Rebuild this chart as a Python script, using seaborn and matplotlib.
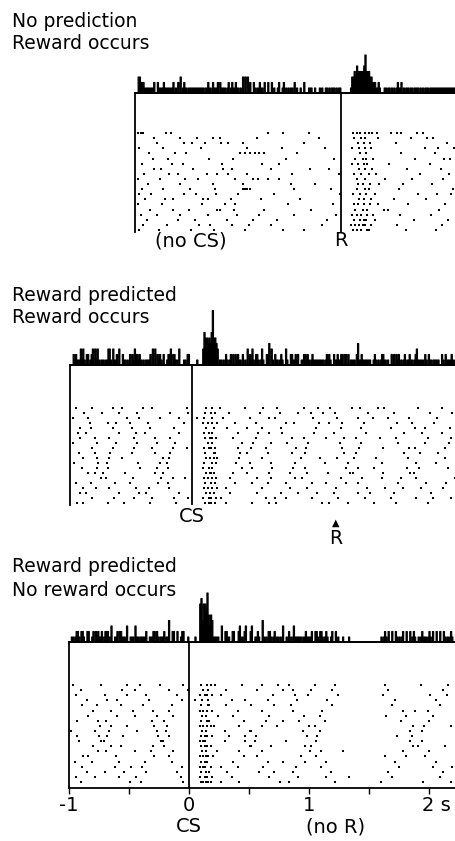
import matplotlib
matplotlib.use("Agg")
import matplotlib.pyplot as plt
import matplotlib.transforms as mtransforms
import pandas as pd
import seaborn as sns

# =========================
# Data: spike times (s) per trial, read off the rasters
# time 0 = CS onset (top panel: R delivered at 1.25 s)
# =========================
top_trials = [
    [-0.44, -0.42, -0.40, -0.21, -0.17, 0.64, 0.77, 0.98, 1.35, 1.38, 1.41, 1.45, 1.48, 1.51, 1.55, 1.67, 1.72, 1.75, 1.88, 1.93],
    [-0.31, -0.09, 0.05, 0.18, 0.24, 0.55, 1.07, 1.36, 1.42, 1.45, 1.56, 1.83, 1.97, 2.02],
    [-0.28, -0.06, 0.01, 0.12, 0.25, 0.31, 0.43, 0.94, 1.39, 1.44, 1.49, 1.71, 2.13],
    [-0.43, -0.23, 0.08, 0.47, 0.76, 1.12, 1.34, 1.40, 1.45, 1.50, 1.95, 2.06, 2.19],
    [-0.35, -0.13, -0.04, 0.41, 0.45, 0.49, 0.53, 0.57, 0.61, 0.88, 1.41, 1.46, 1.75, 2.03],
    [-0.32, -0.19, 0.15, 0.35, 0.79, 1.19, 1.37, 1.43, 1.46, 1.52, 1.87, 2.11, 2.16, 2.21],
    [-0.41, -0.16, -0.07, 0.26, 0.59, 0.73, 1.34, 1.39, 1.44, 1.47, 1.65, 1.99],
    [-0.31, -0.25, 0.02, 0.27, 0.34, 0.67, 0.99, 1.15, 1.40, 1.45, 1.51, 1.80, 2.08],
    [-0.39, -0.18, -0.11, 0.13, 0.22, 0.31, 0.47, 0.84, 1.23, 1.36, 1.42, 1.48, 1.54, 1.91, 2.15],
    [-0.44, -0.26, -0.05, 0.06, 0.37, 0.52, 0.56, 0.64, 0.73, 1.38, 1.45, 1.62, 1.84, 2.10],
    [-0.36, -0.09, 0.18, 0.43, 0.83, 1.03, 1.39, 1.43, 1.49, 1.57, 1.77, 2.01],
    [-0.41, -0.23, -0.01, 0.20, 0.43, 0.45, 0.47, 0.49, 0.86, 1.17, 1.38, 1.45, 1.48, 1.73, 2.18],
    [-0.43, -0.33, -0.06, 0.04, 0.21, 0.39, 0.69, 1.24, 1.35, 1.41, 1.46, 1.53, 1.89, 2.05, 2.17],
    [-0.38, -0.22, -0.15, 0.10, 0.14, 0.33, 0.58, 0.91, 1.40, 1.44, 1.50, 1.69, 1.96],
    [-0.44, -0.24, 0.09, 0.28, 0.37, 0.81, 1.18, 1.36, 1.39, 1.44, 1.49, 1.56, 1.81, 2.12],
    [-0.34, -0.15, -0.02, 0.22, 0.24, 0.36, 0.61, 1.00, 1.37, 1.43, 1.47, 1.61, 1.64, 2.07],
    [-0.42, -0.28, -0.09, 0.14, 0.38, 0.57, 0.86, 1.21, 1.34, 1.38, 1.42, 1.47, 1.52, 1.74, 2.00],
    [-0.37, -0.11, 0.03, 0.30, 0.52, 0.72, 1.13, 1.36, 1.41, 1.44, 1.46, 1.53, 1.86, 2.14],
    [-0.40, -0.20, 0.07, 0.16, 0.34, 0.48, 0.67, 1.09, 1.33, 1.37, 1.40, 1.43, 1.45, 1.50, 1.72, 2.09],
    [-0.43, -0.27, 0.00, 0.19, 0.45, 0.77, 0.94, 1.35, 1.38, 1.42, 1.47, 1.48, 1.79, 2.04],
]

mid_trials = [
    [-0.97, -0.83, -0.66, -0.58, -0.41, -0.33, -0.04, 0.12, 0.17, 0.23, 0.44, 0.59, 0.71, 0.93, 1.05, 1.15, 1.33, 1.40, 1.55, 1.60, 1.88, 2.08],
    [-0.90, -0.75, -0.61, -0.46, -0.18, -0.03, 0.11, 0.16, 0.19, 0.31, 0.57, 0.73, 0.88, 0.99, 1.09, 1.19, 1.47, 1.68, 1.98, 2.17],
    [-0.99, -0.87, -0.54, -0.44, -0.27, -0.11, 0.04, 0.10, 0.17, 0.26, 0.48, 0.64, 0.69, 1.01, 1.21, 1.38, 1.51, 1.63, 1.81, 2.04],
    [-0.85, -0.70, -0.63, -0.52, -0.37, -0.07, 0.09, 0.13, 0.17, 0.21, 0.36, 0.53, 0.78, 0.85, 1.06, 1.14, 1.25, 1.43, 1.71, 1.83, 2.02],
    [-0.93, -0.84, -0.66, -0.50, -0.35, -0.15, 0.12, 0.18, 0.29, 0.46, 0.58, 0.74, 1.03, 1.24, 1.41, 1.66, 1.86, 1.94, 2.15],
    [-0.95, -0.88, -0.61, -0.47, -0.39, -0.11, 0.10, 0.14, 0.17, 0.38, 0.55, 0.64, 0.75, 1.02, 1.18, 1.45, 1.77, 1.92, 2.08],
    [-0.93, -0.81, -0.69, -0.48, -0.31, -0.18, 0.11, 0.15, 0.17, 0.20, 0.34, 0.53, 0.83, 0.93, 1.12, 1.27, 1.37, 1.57, 1.70, 1.97, 2.16],
    [-0.99, -0.79, -0.63, -0.46, -0.29, -0.14, 0.13, 0.17, 0.42, 0.51, 0.66, 0.79, 0.97, 1.23, 1.41, 1.72, 1.94, 2.14],
    [-0.83, -0.66, -0.48, -0.33, -0.16, -0.04, 0.10, 0.14, 0.16, 0.19, 0.38, 0.49, 0.62, 0.87, 0.95, 1.25, 1.39, 1.59, 1.81, 1.86, 2.11],
    [-0.94, -0.81, -0.68, -0.50, -0.31, -0.18, 0.11, 0.18, 0.19, 0.40, 0.46, 0.63, 0.83, 0.94, 1.27, 1.37, 1.77, 1.90, 2.05],
    [-0.91, -0.79, -0.69, -0.58, -0.24, -0.19, 0.12, 0.15, 0.18, 0.21, 0.39, 0.58, 0.91, 1.07, 1.21, 1.35, 1.53, 1.80, 2.11],
    [-0.98, -0.78, -0.71, -0.45, -0.27, -0.21, 0.10, 0.17, 0.20, 0.37, 0.48, 0.66, 0.86, 1.11, 1.30, 1.58, 1.87, 2.03],
    [-0.92, -0.79, -0.70, -0.43, -0.29, -0.20, 0.09, 0.14, 0.17, 0.42, 0.50, 0.67, 0.84, 0.94, 1.28, 1.38, 1.52, 1.79, 1.89, 2.13],
    [-0.87, -0.81, -0.74, -0.56, -0.31, -0.24, 0.12, 0.15, 0.16, 0.18, 0.34, 0.46, 0.64, 0.82, 0.96, 1.13, 1.32, 1.34, 1.59, 1.82, 1.85],
    [-0.76, -0.72, -0.49, -0.26, -0.16, -0.06, 0.10, 0.13, 0.17, 0.20, 0.32, 0.54, 0.66, 0.86, 0.92, 1.24, 1.42, 1.58, 1.74, 1.87, 2.19],
    [-0.97, -0.84, -0.64, -0.52, -0.28, -0.20, 0.11, 0.16, 0.19, 0.36, 0.50, 0.63, 0.78, 1.00, 1.12, 1.28, 1.38, 1.72, 1.95, 2.12],
    [-0.91, -0.80, -0.69, -0.47, -0.36, -0.19, 0.10, 0.13, 0.17, 0.21, 0.28, 0.58, 0.82, 0.96, 1.20, 1.46, 1.61, 1.76, 1.91, 2.09],
    [-0.93, -0.88, -0.61, -0.44, -0.38, -0.11, 0.12, 0.15, 0.18, 0.32, 0.54, 0.74, 0.88, 1.04, 1.18, 1.38, 1.48, 1.68, 1.99],
    [-0.83, -0.65, -0.48, -0.33, -0.15, -0.03, 0.09, 0.14, 0.16, 0.20, 0.24, 0.62, 0.69, 0.78, 1.00, 1.22, 1.44, 1.66, 1.87, 2.01, 2.16],
    [-0.96, -0.91, -0.70, -0.57, -0.35, -0.13, 0.11, 0.14, 0.16, 0.19, 0.28, 0.50, 0.64, 0.70, 1.08, 1.14, 1.30, 1.52, 1.70, 1.97],
]

bot_trials = [
    [-0.97, -0.73, -0.52, -0.41, -0.24, -0.05, 0.10, 0.15, 0.18, 0.22, 0.44, 0.61, 0.74, 0.83, 1.05, 1.22, 1.63, 1.93, 2.16],
    [-0.90, -0.56, -0.45, -0.17, -0.01, 0.12, 0.16, 0.31, 0.57, 0.78, 0.87, 1.02, 1.19, 1.66, 2.12],
    [-0.94, -0.70, -0.52, -0.36, -0.10, 0.09, 0.13, 0.15, 0.19, 0.27, 0.70, 0.88, 0.99, 1.24, 1.62, 2.01, 2.15],
    [-0.85, -0.68, -0.60, -0.33, -0.06, 0.05, 0.11, 0.16, 0.36, 0.47, 0.66, 0.90, 1.15, 1.72, 2.06],
    [-0.89, -0.77, -0.57, -0.38, -0.14, 0.10, 0.16, 0.17, 0.31, 0.52, 0.71, 0.85, 1.19, 1.69, 2.09],
    [-0.80, -0.65, -0.47, -0.30, -0.17, 0.09, 0.12, 0.15, 0.19, 0.41, 0.61, 0.87, 1.11, 1.78, 1.88, 1.99],
    [-0.84, -0.60, -0.45, -0.27, -0.13, 0.11, 0.14, 0.24, 0.37, 0.67, 0.96, 1.09, 1.64, 1.81, 2.03],
    [-0.93, -0.76, -0.69, -0.31, -0.21, 0.10, 0.15, 0.17, 0.46, 0.64, 0.78, 0.92, 1.13, 1.77, 2.00],
    [-0.74, -0.65, -0.52, -0.29, -0.18, 0.09, 0.12, 0.15, 0.18, 0.21, 0.42, 0.61, 0.73, 1.00, 1.05, 1.87, 1.96, 2.18],
    [-0.98, -0.78, -0.67, -0.43, -0.27, -0.19, 0.11, 0.14, 0.30, 0.51, 0.52, 0.95, 1.09, 1.84, 1.94],
    [-0.93, -0.75, -0.68, -0.55, -0.26, -0.17, 0.10, 0.13, 0.15, 0.19, 0.33, 0.47, 0.56, 0.98, 1.07, 1.73, 1.86],
    [-0.92, -0.73, -0.71, -0.23, -0.22, 0.09, 0.12, 0.13, 0.30, 0.47, 0.55, 0.81, 1.06, 1.84, 1.94],
    [-0.80, -0.65, -0.57, -0.30, -0.21, 0.10, 0.13, 0.15, 0.18, 0.51, 0.52, 0.68, 0.97, 1.02, 1.87, 1.91, 2.13],
    [-0.76, -0.69, -0.45, -0.32, -0.13, 0.11, 0.14, 0.23, 0.42, 0.61, 1.01, 1.10, 1.28, 1.78, 2.00],
    [-0.88, -0.84, -0.61, -0.29, -0.17, 0.09, 0.12, 0.14, 0.16, 0.20, 0.46, 0.57, 0.93, 1.06, 1.63, 1.81, 1.97],
    [-0.95, -0.81, -0.58, -0.37, -0.14, 0.10, 0.13, 0.15, 0.37, 0.66, 0.78, 0.97, 1.14, 1.72, 2.06],
    [-0.89, -0.62, -0.48, -0.39, -0.06, 0.09, 0.12, 0.13, 0.18, 0.27, 0.41, 0.62, 0.89, 1.10, 1.75, 2.03, 2.19],
    [-0.85, -0.70, -0.54, -0.36, -0.10, 0.10, 0.14, 0.17, 0.32, 0.58, 0.71, 0.87, 1.18, 1.66, 2.12],
    [-0.94, -0.78, -0.58, -0.44, -0.07, 0.09, 0.13, 0.15, 0.19, 0.36, 0.67, 0.91, 1.14, 1.33, 1.69, 2.09],
    [-0.90, -0.49, -0.40, -0.05, 0.10, 0.12, 0.14, 0.16, 0.18, 0.27, 0.42, 0.76, 0.83, 1.22, 1.60, 1.95, 2.18],
]

top_titles = ["No prediction", "Reward occurs"]
mid_titles = ["Reward predicted", "Reward occurs"]
bot_titles = ["Reward predicted", "No reward occurs"]

reward_time = 1.25        # R line in top panel
reward_arrow_time = 1.20  # R arrow in middle panel
bin_width = 0.01

axis_ticks = [-1, 0, 1, 2]
axis_tick_labels = ["-1", "0", "1", "2 s"]

# =========================
# Layout (pixels)
# =========================
W, H = 456, 841
PX_PER_S = 120.0
PX_PER_COUNT = 5.5

sns.set_style("white")
plt.rcParams["font.family"] = ["DejaVu Sans"]
plt.rcParams["text.color"] = "black"
plt.rcParams["xtick.color"] = "black"

fig = plt.figure(figsize=(W / 100, H / 100), dpi=100)


def rect(x0, y0, x1, y1):
    return [x0 / W, 1 - y1 / H, (x1 - x0) / W, (y1 - y0) / H]


def to_frame(trials):
    rows = [(t, i) for i, tr in enumerate(trials) for t in tr]
    return pd.DataFrame(rows, columns=["time", "trial"])


def draw_panel(trials, left, zero, base, bottom, row_top, row_bot, hist_ticks, event):
    x_lo = (left - zero) / PX_PER_S
    x_hi = (W - zero) / PX_PER_S
    df = to_frame(trials)

    # histogram (PSTH)
    hax = fig.add_axes(rect(left, base - 60, W, base))
    sns.histplot(data=df, x="time", binwidth=bin_width, binrange=(-1.005, 2.245),
                 element="step", fill=True, color="black", alpha=1,
                 linewidth=0.8, ax=hax)
    hax.set_xlim(x_lo, x_hi)
    hax.set_ylim(0, 60 / PX_PER_COUNT)
    for s in ["top", "right", "left"]:
        hax.spines[s].set_visible(False)
    hax.spines["bottom"].set_linewidth(1.4)
    hax.spines["bottom"].set_color("black")
    hax.set_xticks(hist_ticks)
    hax.tick_params(axis="x", direction="out", length=3, width=1, labelbottom=False, color="black")
    hax.set_yticks([])
    hax.set_xlabel("")
    hax.set_ylabel("")
    hax.patch.set_alpha(0)

    # raster
    rax = fig.add_axes(rect(left, base, W, bottom))
    sns.scatterplot(data=df, x="time", y="trial", marker="s", s=3.5,
                    color="black", linewidth=0, ax=rax)
    n = len(trials)
    step = (row_bot - row_top) / (n - 1)
    rax.set_ylim(n - 1 + (bottom - row_bot) / step, -(row_top - base) / step)
    rax.set_xlim(x_lo, x_hi)
    for s in ["top", "right", "bottom"]:
        rax.spines[s].set_visible(False)
    rax.spines["left"].set_linewidth(1.3)
    rax.spines["left"].set_color("black")
    rax.axvline(event, color="black", lw=1.3)
    rax.set_xticks([])
    rax.set_yticks([])
    rax.set_xlabel("")
    rax.set_ylabel("")
    rax.patch.set_alpha(0)
    return rax


def label(ax, x, y_px, txt, size=14):
    tr = mtransforms.blended_transform_factory(ax.transData, fig.transFigure)
    ax.text(x, 1 - y_px / H, txt, transform=tr, ha="center", va="center",
            fontsize=size, clip_on=False)


def titles(lines, y1, y2):
    fig.text(12 / W, 1 - y1 / H, lines[0], fontsize=13.5, va="baseline")
    fig.text(12 / W, 1 - y2 / H, lines[1], fontsize=13.5, va="baseline")


half_sec = [-1, -0.5, 0, 0.5, 1, 1.5, 2]

# =========================
# 1. No prediction, reward occurs
# =========================
titles(top_titles, 27, 49)
ax1 = draw_panel(top_trials, 135, 191, 93, 232, 133, 230,
                 [-0.25, 0.25, 0.75, 1.25, 1.75], reward_time)
label(ax1, 0, 241, "(no CS)")
label(ax1, reward_time, 241, "R")

# =========================
# 2. Reward predicted, reward occurs
# =========================
titles(mid_titles, 301, 323)
ax2 = draw_panel(mid_trials, 70, 192, 365, 505, 408, 503, half_sec, 0)
label(ax2, 0, 517, "CS")
label(ax2, reward_arrow_time, 523, "\u25B2", size=7)
label(ax2, reward_arrow_time, 538, "R", size=13.5)

# =========================
# 3. Reward predicted, no reward
# =========================
titles(bot_titles, 572, 596)
ax3 = draw_panel(bot_trials, 69, 189, 642, 788, 685, 782, half_sec, 0)
ax3.spines["bottom"].set_visible(True)
ax3.spines["bottom"].set_linewidth(1.3)
ax3.spines["bottom"].set_color("black")
ax3.set_xticks(axis_ticks)
ax3.set_xticklabels(axis_tick_labels)
ax3.set_xticks([-0.5, 0.5, 1.5], minor=True)
ax3.tick_params(axis="x", which="both", direction="out", length=4, width=1,
                labelsize=14, pad=1.5, color="black", bottom=True)
last = ax3.get_xticklabels()[-1]
last.set_horizontalalignment("left")
last.set_transform(last.get_transform() + mtransforms.ScaledTranslation(-7 / 100, 0, fig.dpi_scale_trans))
label(ax3, 0, 827, "CS")
label(ax3, 1.22, 827, "(no R)")

fig.savefig("out.png", dpi=100)
